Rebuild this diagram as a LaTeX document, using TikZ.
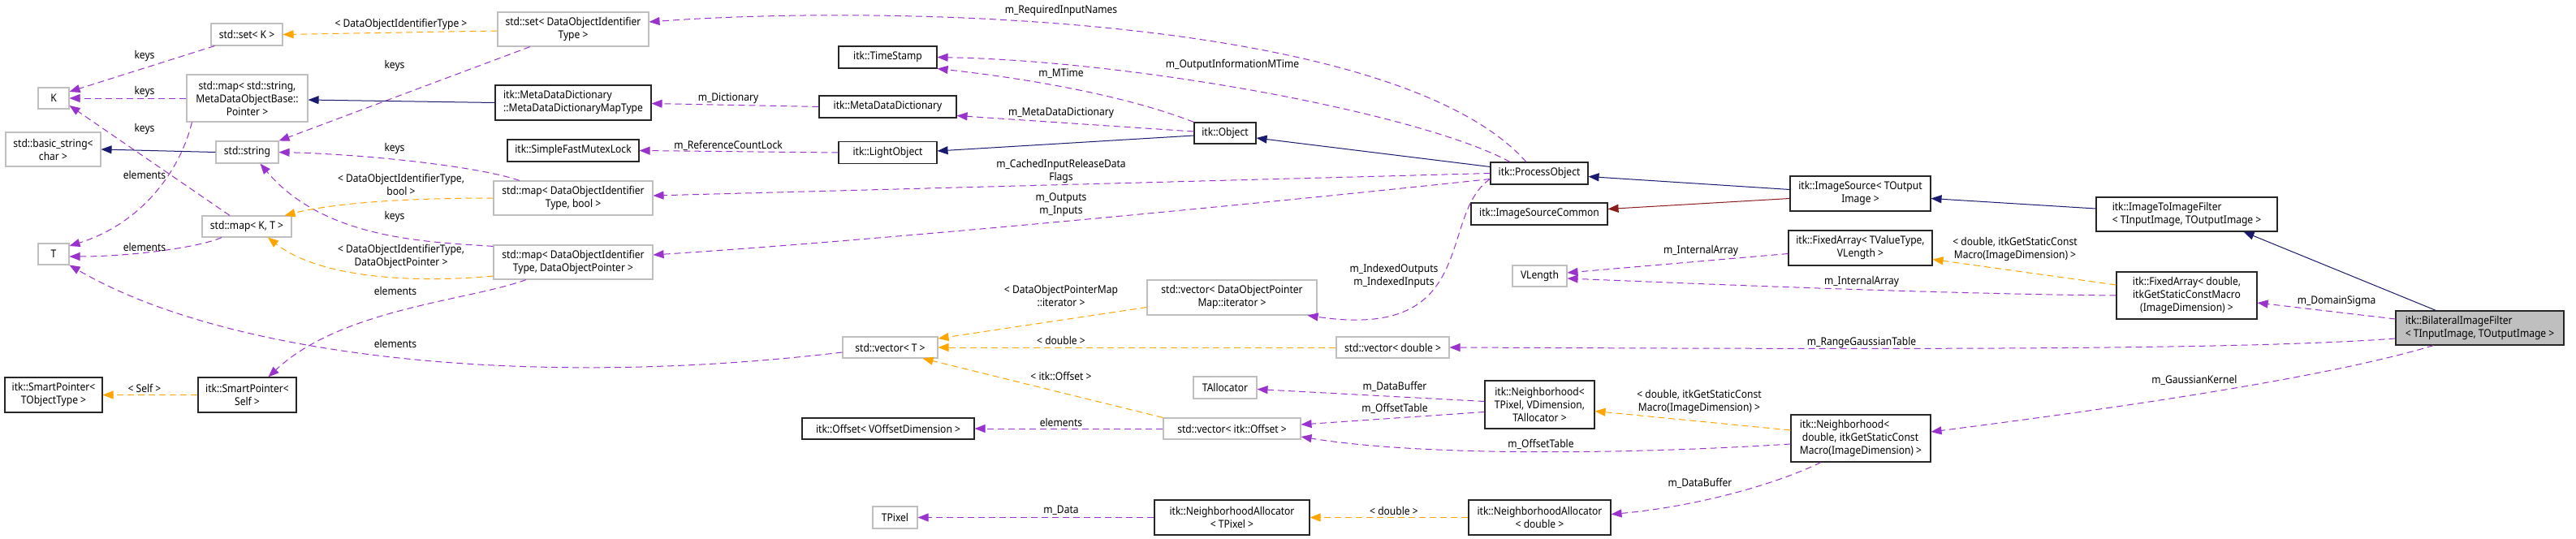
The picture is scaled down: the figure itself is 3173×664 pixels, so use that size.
\documentclass[tikz,border=0pt]{standalone}
\usepackage{fontspec}
\newfontfamily\dotfont[FakeStretch=0.9]{Noto Sans}
\usepackage{xcolor}
\definecolor{memberpurple}{HTML}{9A32CD}
\definecolor{tmplorange}{HTML}{FFA500}
\definecolor{inhblue}{HTML}{191970}
\definecolor{protred}{HTML}{8B1A1A}
\definecolor{extgrey}{HTML}{BFBFBF}
\usepackage{tikz}
\usetikzlibrary{arrows.meta}

\begin{document}
\begin{tikzpicture}[x=1pt, y=-1pt,
  every node/.style={font=\dotfont\fontsize{13.4}{16}\selectfont},
  box/.style={draw, line width=1.1pt, inner sep=0pt, align=center},
  ext/.style={box, draw=extgrey},
  cls/.style={box, draw=black!85},
  lbl/.style={inner sep=0pt, align=center},
  member/.style={memberpurple, line width=1pt, dash pattern=on 8pt off 5pt, -{Triangle[length=13pt, width=10pt]}},
  tmpl/.style={tmplorange, line width=1pt, dash pattern=on 8pt off 5pt, -{Triangle[length=13pt, width=10pt]}},
  inherit/.style={inhblue, line width=1pt, -{Triangle[length=13pt, width=10pt]}},
  protinherit/.style={protred, line width=1pt, -{Triangle[length=13pt, width=10pt]}}
]

  \path[use as bounding box, fill=white] (0,0) rectangle (3173,664);

  % STD CONTAINERS - left columns
  \node[ext, minimum width=88pt, minimum height=27pt] (setK) at (304,42.5) {std::set< K >};
  \node[ext, minimum width=38pt, minimum height=26pt] (K) at (66,121) {K};
  \node[ext, minimum width=149pt, minimum height=58pt] (mapStr) at (304.5,121) {std::map< std::string,\\MetaDataObjectBase::\\Pointer >};
  \node[ext, minimum width=117pt, minimum height=42pt] (bstr) at (65.5,184) {std::basic\_string<\\char >};
  \node[ext, minimum width=77pt, minimum height=27pt] (str) at (304.5,187.5) {std::string};
  \node[ext, minimum width=110pt, minimum height=26pt] (mapKT) at (304,279) {std::map< K, T >};
  \node[ext, minimum width=38pt, minimum height=26pt] (T) at (66,313) {T};
  \node[cls, minimum width=120pt, minimum height=43pt] (spTO) at (66,486.5) {itk::SmartPointer<\\TObjectType >};
  \node[cls, minimum width=121pt, minimum height=43pt] (spSelf) at (304.5,486.5) {itk::SmartPointer<\\Self >};

  \node[ext, minimum width=186pt, minimum height=42pt] (setDOIT) at (706,36) {std::set< DataObjectIdentifier\\Type >};
  \node[cls, align=left, minimum width=192pt, minimum height=43pt] (mddMap) at (706,126.5) {itk::MetaDataDictionary\\::MetaDataDictionaryMapType};
  \node[cls, minimum width=162pt, minimum height=27pt] (mutex) at (706,185.5) {itk::SimpleFastMutexLock};
  \node[ext, minimum width=196pt, minimum height=42pt] (mapBool) at (706,244) {std::map< DataObjectIdentifier\\Type, bool >};
  \node[ext, minimum width=196pt, minimum height=42pt] (mapDOP) at (706,323) {std::map< DataObjectIdentifier\\Type, DataObjectPointer >};

  % ITK OBJECTS - middle
  \node[cls, minimum width=121pt, minimum height=27pt] (timestamp) at (1093.5,70.5) {itk::TimeStamp};
  \node[cls, minimum width=169pt, minimum height=27pt] (mdd) at (1093.5,131.5) {itk::MetaDataDictionary};
  \node[cls, minimum width=121pt, minimum height=27pt] (lightobj) at (1093.5,188) {itk::LightObject};
  \node[ext, minimum width=117pt, minimum height=26pt] (vecT) at (1096.5,428) {std::vector< T >};
  \node[cls, minimum width=212pt, minimum height=26pt] (offset) at (1094,528) {itk::Offset< VOffsetDimension >};
  \node[ext, minimum width=55pt, minimum height=27pt] (tpixel) at (1102.5,637.5) {TPixel};

  \node[cls, minimum width=76pt, minimum height=26pt] (object) at (1509,164) {itk::Object};
  \node[ext, minimum width=209pt, minimum height=43pt] (vecIt) at (1517.5,366.5) {std::vector< DataObjectPointer\\Map::iterator >};
  \node[ext, minimum width=78pt, minimum height=27pt] (tallocator) at (1509,477.5) {TAllocator};
  \node[ext, minimum width=169pt, minimum height=26pt] (vecOff) at (1517.5,528) {std::vector< itk::Offset >};
  \node[cls, minimum width=191pt, minimum height=43pt] (naTP) at (1517.5,637.5) {itk::NeighborhoodAllocator\\< TPixel >};

  \node[cls, minimum width=120pt, minimum height=27pt] (procobj) at (1896,213.5) {itk::ProcessObject};
  \node[cls, minimum width=168pt, minimum height=27pt] (imgsrccommon) at (1896,263.5) {itk::ImageSourceCommon};
  \node[ext, minimum width=67pt, minimum height=26pt] (vlength) at (1896.5,340) {VLength};
  \node[ext, minimum width=139pt, minimum height=26pt] (vecD) at (1715.5,428) {std::vector< double >};
  \node[cls, minimum width=135pt, minimum height=59pt] (nbTP) at (1896.5,498.5) {itk::Neighborhood<\\TPixel, VDimension,\\TAllocator >};
  \node[cls, minimum width=175pt, minimum height=43pt] (naD) at (1896.5,637.5) {itk::NeighborhoodAllocator\\< double >};

  % FILTER SIDE - right
  \node[cls, minimum width=173pt, minimum height=43pt] (imgsrc) at (2291.5,238.5) {itk::ImageSource< TOutput\\Image >};
  \node[cls, minimum width=177pt, minimum height=43pt] (fixTV) at (2291.5,305.5) {itk::FixedArray< TValueType,\\VLength >};
  \node[cls, align=left, minimum width=172pt, minimum height=58pt] (nbD) at (2292,540) {itk::Neighborhood<\\\hspace*{3pt}double, itkGetStaticConst\\Macro(ImageDimension) >};
  \node[cls, align=left, minimum width=223pt, minimum height=42pt] (img2img) at (2693.5,264) {itk::ImageToImageFilter\\< TInputImage, TOutputImage >};
  \node[cls, minimum width=173pt, minimum height=58pt] (fixD) at (2693.5,364) {itk::FixedArray< double,\\itkGetStaticConstMacro\\(ImageDimension) >};
  \node[cls, fill=extgrey, align=left, minimum width=207pt, minimum height=42pt] (bilateral) at (3054.5,404) {itk::BilateralImageFilter\\< TInputImage, TOutputImage >};

  % K, T and string users
  \draw[member] ([xshift=5pt]setK.south west) -- ([yshift=8pt]K.east);
  \draw[member] (mapStr.west) -- (K.east);
  \draw[member] ([xshift=-21pt]mapKT.north) -- ([yshift=-9pt]K.east);
  \draw[inherit] (str.west) -- (bstr.east);
  \draw[member] ([xshift=7pt]mapStr.south west) .. controls (222,210) and (175,275) .. ([yshift=10pt]T.east);
  \draw[member] ([xshift=-31pt]mapKT.south) .. controls (245,305) and (160,316) .. ([yshift=-3pt]T.east);
  \draw[member] ([yshift=-6pt]vecT.west) .. controls (650,480) and (280,440) .. (T.south east);
  \node[lbl] (lkeysA) at (178,69) {keys};
  \node[lbl] (lkeysB) at (178,113) {keys};
  \node[lbl] (lkeysC) at (178,159) {keys};
  \node[lbl] (lelemA) at (178,215) {elements};
  \node[lbl] (lelemB) at (178,304) {elements};
  \node[lbl] (lelemC) at (487,423) {elements};

  % DataObjectIdentifierType containers
  \draw[tmpl] ([yshift=-2pt]setDOIT.west) -- (setK.east);
  \draw[member] ([xshift=-53pt]setDOIT.south) -- (str.north east);
  \draw[member] ([xshift=-66pt]mapBool.north) .. controls (590,205) and (450,190) .. (str.east);
  \draw[member] ([yshift=-2pt]mapDOP.north west) .. controls (530,298) and (400,296) .. ([xshift=16pt]str.south);
  \draw[tmpl] (mapBool.west) .. controls (520,244) and (420,248) .. ([xshift=-9pt]mapKT.north east);
  \draw[tmpl] ([yshift=-17pt]mapDOP.west) .. controls (500,350) and (390,340) .. ([xshift=26pt]mapKT.south);
  \draw[member] ([xshift=-58pt]mapDOP.south) .. controls (580,370) and (420,380) .. ([xshift=26pt]spSelf.north);
  \draw[tmpl] (spSelf.west) -- (spTO.east);
  \draw[inherit] (mddMap.west) -- ([yshift=-2pt]mapStr.east);
  \node[lbl] (ldoit) at (494,30) {< DataObjectIdentifierType >};
  \node[lbl] (lkeysD) at (486,81) {keys};
  \node[lbl] (lkeysE) at (486,183) {keys};
  \node[lbl] (lkeysF) at (486,267) {keys};
  \node[lbl] (ldoitbool) at (494,227) {< DataObjectIdentifierType,\\bool >};
  \node[lbl] (ldoitptr) at (494,316) {< DataObjectIdentifierType,\\DataObjectPointer >};
  \node[lbl] (lelemD) at (487,358) {elements};
  \node[lbl] (lself) at (178,478) {< Self >};

  % itk::Object family
  \draw[member] (mdd.west) -- ([yshift=-1pt]mddMap.east);
  \draw[member] (lightobj.west) -- (mutex.east);
  \draw[member] (object.north west) .. controls (1380,115) and (1250,95) .. (timestamp.south east);
  \draw[member] ([yshift=2pt]object.west) -- ([yshift=-11pt]mdd.east);
  \draw[inherit] ([yshift=-3pt]object.west) -- ([yshift=2pt]lightobj.east);
  \draw[inherit] ([yshift=8pt]procobj.west) -- ([yshift=-6pt]object.east);
  \node[lbl] (ldict) at (897,121) {m\_Dictionary};
  \node[lbl] (llock) at (897,179) {m\_ReferenceCountLock};
  \node[lbl] (lmtime) at (1307,91) {m\_MTime};
  \node[lbl] (lmdd) at (1307,139) {m\_MetaDataDictionary};

  % ProcessObject members
  \draw[member] ([xshift=-16pt]procobj.north) .. controls (1720,20) and (1100,5) .. ([yshift=9pt]setDOIT.east);
  \draw[member] ([xshift=-36pt]procobj.north) .. controls (1750,140) and (1400,75) .. (timestamp.east);
  \draw[member] (procobj.west) -- ([yshift=3pt]mapBool.east);
  \draw[member] ([yshift=-7pt]procobj.west) .. controls (1600,246) and (1100,295) .. ([yshift=9pt]mapDOP.east);
  \draw[member] ([yshift=-7pt]procobj.west) .. controls (1770,265) and (1825,420) .. ([xshift=-12pt]vecIt.south east);
  \node[lbl] (lreq) at (1307,13) {m\_RequiredInputNames};
  \node[lbl] (loutmtime) at (1518,80) {m\_OutputInformationMTime};
  \node[lbl] (lcached) at (1307,211) {m\_CachedInputReleaseData\\Flags};
  \node[lbl] (linout) at (1307,252) {m\_Outputs\\m\_Inputs};
  \node[lbl] (lindexed) at (1717,340) {m\_IndexedOutputs\\m\_IndexedInputs};

  % ImageSource chain
  \draw[inherit] ([yshift=5pt]imgsrc.west) -- ([yshift=-4pt]procobj.east);
  \draw[protinherit] ([yshift=-6pt]imgsrc.west) -- ([yshift=6pt]imgsrccommon.east);
  \draw[inherit] ([yshift=7pt]img2img.west) -- ([yshift=-6pt]imgsrc.east);
  \draw[inherit] ([xshift=-54pt]bilateral.north) -- ([xshift=70pt]img2img.south);

  % FixedArray
  \draw[member] ([yshift=-7pt]fixTV.west) -- ([yshift=4pt]vlength.east);
  \draw[member] (fixD.west) .. controls (2400,362) and (2150,352) .. ([yshift=-3pt]vlength.east);
  \draw[tmpl] ([yshift=13pt]fixD.west) -- ([yshift=-14pt]fixTV.east);
  \draw[member] ([yshift=11pt]bilateral.west) -- ([yshift=-9pt]fixD.east);
  \node[lbl] (linternA) at (2095,309) {m\_InternalArray};
  \node[lbl] (linternB) at (2293,347) {m\_InternalArray};
  \node[lbl] (lfixdbl) at (2482,307) {< double, itkGetStaticConst\\Macro(ImageDimension) >};
  \node[lbl] (lsigma) at (2878,371) {m\_DomainSigma};

  % vectors
  \draw[tmpl] ([yshift=-12pt]vecIt.west) -- ([yshift=11pt]vecT.east);
  \draw[tmpl] (vecD.west) -- (vecT.east);
  \draw[tmpl] (vecOff.north west) -- ([xshift=40pt]vecT.south);
  \draw[member] ([yshift=-13pt]bilateral.west) .. controls (2750,432) and (2300,430) .. (vecD.east);
  \draw[member] (vecOff.west) -- (offset.east);
  \node[lbl] (lvecit) at (1307,364) {< DataObjectPointerMap\\::iterator >};
  \node[lbl] (lvecdbl) at (1307,419) {< double >};
  \node[lbl] (lvecoff) at (1307,463) {< itk::Offset >};
  \node[lbl] (lrange) at (2293,422) {m\_RangeGaussianTable};
  \node[lbl] (lelemE) at (1307,520) {elements};

  % Neighborhood
  \draw[member] ([yshift=4pt]nbTP.west) -- ([yshift=-2pt]tallocator.east);
  \draw[member] ([yshift=-9pt]nbTP.west) -- ([yshift=5pt]vecOff.east);
  \draw[member] ([yshift=-7pt]nbD.west) .. controls (2000,560) and (1750,562) .. ([yshift=-10pt]vecOff.east);
  \draw[tmpl] ([yshift=10pt]nbD.west) -- ([yshift=-8pt]nbTP.east);
  \draw[member] ([xshift=-57pt]bilateral.south) .. controls (2850,470) and (2550,510) .. ([yshift=8pt]nbD.east);
  \draw[member] ([xshift=-49pt]nbD.south) .. controls (2180,600) and (2080,625) .. ([yshift=4pt]naD.east);
  \draw[tmpl] (naD.west) -- (naTP.east);
  \draw[member] (naTP.west) -- (tpixel.east);
  \node[lbl] (lbufA) at (1718,476) {m\_DataBuffer};
  \node[lbl] (loffA) at (1718,503) {m\_OffsetTable};
  \node[lbl] (loffB) at (1898,547) {m\_OffsetTable};
  \node[lbl] (lnbdbl) at (2093,495) {< double, itkGetStaticConst\\Macro(ImageDimension) >};
  \node[lbl] (lkernel) at (2703,468) {m\_GaussianKernel};
  \node[lbl] (lbufB) at (2094,595) {m\_DataBuffer};
  \node[lbl] (lnadbl) at (1717,629) {< double >};
  \node[lbl] (ldata) at (1307,629) {m\_Data};

\end{tikzpicture}
\end{document}
